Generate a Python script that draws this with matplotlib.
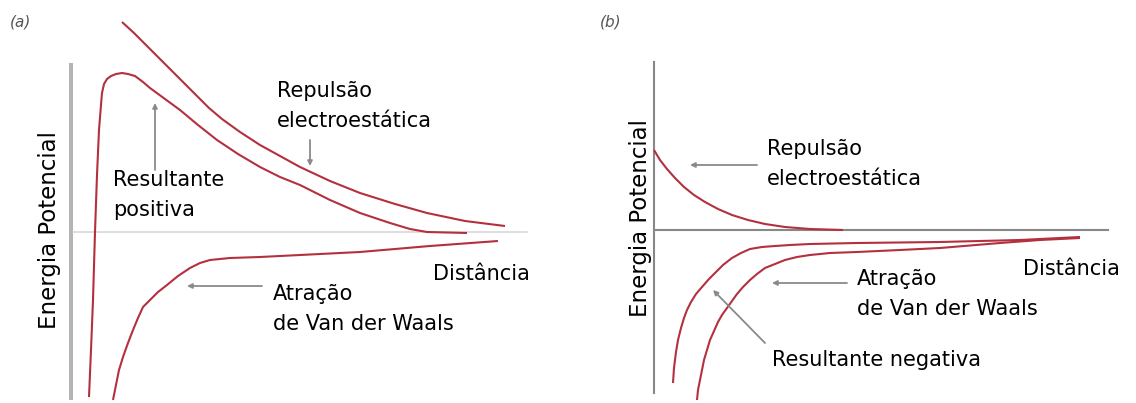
import numpy as np
import matplotlib.pyplot as plt

# painel (a): distancia / energia (unidades arbitrarias, origem no eixo)
a_rep_x = [51, 63, 75, 87, 99, 112, 125, 138, 151, 169, 189, 209, 229, 259, 289, 324, 356, 394, 434]
a_rep_y = [210, 199, 187, 175, 163, 150, 137, 124, 113, 100, 87, 76, 65, 51, 39, 28, 19, 11, 6]
a_res_x = [18, 20, 22, 24, 26, 28, 30, 31, 33, 36, 40, 45, 51, 57, 64, 72, 79, 94, 109, 127,
           146, 167, 189, 209, 229, 259, 289, 319, 339, 356, 396]
a_res_y = [-165, -118, -68, 0, 57, 102, 127, 139, 148, 153, 156, 158, 159, 158, 156, 150, 144,
           133, 122, 107, 92, 78, 65, 55, 47, 32, 19, 9, 3, 0, -1]
a_att_x = [42, 45, 48, 52, 57, 62, 67, 72, 79, 87, 96, 107, 119, 129, 139, 159, 189, 229, 289, 359, 427]
a_att_y = [-168, -153, -138, -125, -111, -98, -86, -75, -68, -60, -53, -44, -36, -31, -28, -26,
           -25, -23, -20, -14, -9]

# painel (b)
b_rep_x = [0, 6, 13, 21, 30, 40, 51, 64, 78, 94, 111, 131, 156, 189]
b_rep_y = [80, 70, 61, 52, 43, 35, 28, 21, 15, 10, 6, 3, 1, 0]
b_res_x = [19, 20, 22, 24, 27, 30, 33, 37, 42, 48, 55, 62, 69, 78, 87, 96, 108, 121, 136, 156,
           203, 286, 366, 426]
b_res_y = [-153, -138, -122, -110, -98, -88, -80, -72, -64, -57, -49, -42, -35, -28, -23, -19,
           -17, -16, -15, -14, -13, -12, -10, -7]
b_att_x = [43, 44, 46, 48, 50, 53, 56, 60, 64, 68, 73, 78, 83, 89, 96, 103, 111, 121, 131, 143,
           156, 176, 203, 246, 286, 346, 386, 426]
b_att_y = [-170, -160, -150, -140, -130, -120, -110, -101, -92, -85, -78, -71, -64, -57, -50,
           -44, -38, -34, -30, -27, -25, -23, -22, -20, -18, -13, -10, -8]

red = "#b4303e"
plt.rcParams['font.family'] = ['DejaVu Sans']
fs = 15
ls = 1.6

fig = plt.figure(figsize=(11.36, 4.03), dpi=100)
ax1 = fig.add_axes([0, 0, 0.5, 1])
ax2 = fig.add_axes([0.5, 0, 0.5, 1])
ax1.set_xlim(-71, 497)
ax1.set_ylim(-171, 232)
ax2.set_xlim(-86, 482)
ax2.set_ylim(-173, 230)

for ax in (ax1, ax2):
    ax.set_xticks([])
    ax.set_yticks([])
    ax.patch.set_alpha(0)
    ax.spines['top'].set_visible(False)
    ax.spines['right'].set_visible(False)
    ax.spines['left'].set_position(('data', 0))
    ax.spines['bottom'].set_position(('data', 0))

ax1.spines['left'].set_bounds(-166, 167)
ax1.spines['left'].set_color('#b4b4b4')
ax1.spines['left'].set_linewidth(2.9)
ax1.spines['bottom'].set_bounds(2, 456)
ax1.spines['bottom'].set_color('#d4d4d4')
ax1.spines['bottom'].set_linewidth(1.1)

ax2.spines['left'].set_bounds(-163, 168)
ax2.spines['left'].set_color('#888888')
ax2.spines['left'].set_linewidth(1.5)
ax2.spines['bottom'].set_bounds(0, 454)
ax2.spines['bottom'].set_color('#888888')
ax2.spines['bottom'].set_linewidth(1.5)

for x, y, ax in [(a_rep_x, a_rep_y, ax1), (a_res_x, a_res_y, ax1), (a_att_x, a_att_y, ax1),
                 (b_rep_x, b_rep_y, ax2), (b_res_x, b_res_y, ax2), (b_att_x, b_att_y, ax2)]:
    ax.plot(x, y, color=red, lw=1.5, zorder=3, solid_capstyle='butt', solid_joinstyle='round')

arr = dict(arrowstyle='-|>', color='#8a8a8a', lw=1.3, mutation_scale=7,
           shrinkA=0, shrinkB=0)

# textos painel (a)
ax1.text(-61, 210, "(a)", fontsize=11, style='italic', color='#555555', va='center', ha='left')
ax1.text(-21, 2, "Energia Potencial", fontsize=16.5, rotation=90, ha='center', va='center')
ax1.text(206, 151, "Repulsão\nelectroestática", fontsize=fs, ha='left', va='top', linespacing=ls)
ax1.text(42, 62, "Resultante\npositiva", fontsize=fs, ha='left', va='top', linespacing=ls)
ax1.text(202, -52, "Atração\nde Van der Waals", fontsize=fs, ha='left', va='top', linespacing=ls)
ax1.text(362, -32, "Distância", fontsize=fs, ha='left', va='top')
ax1.annotate("", xy=(84, 129), xytext=(84, 62), arrowprops=arr)
ax1.annotate("", xy=(239, 66), xytext=(239, 92), arrowprops=arr)
ax1.annotate("", xy=(116, -54), xytext=(191, -54), arrowprops=arr)

# textos painel (b)
ax2.text(-54, 208, "(b)", fontsize=11, style='italic', color='#555555', va='center', ha='left')
ax2.text(-14, 12, "Energia Potencial", fontsize=16.5, rotation=90, ha='center', va='center')
ax2.text(113, 91, "Repulsão\nelectroestática", fontsize=fs, ha='left', va='top', linespacing=ls)
ax2.text(203, -39, "Atração\nde Van der Waals", fontsize=fs, ha='left', va='top', linespacing=ls)
ax2.text(369, -29, "Distância", fontsize=fs, ha='left', va='top')
ax2.text(118, -120, "Resultante negativa", fontsize=fs, ha='left', va='top')
ax2.annotate("", xy=(36, 65), xytext=(103, 65), arrowprops=arr)
ax2.annotate("", xy=(118, -53), xytext=(193, -53), arrowprops=arr)
ax2.annotate("", xy=(59, -60), xytext=(111, -113), arrowprops=arr)

fig.savefig("out.png", dpi=100)
